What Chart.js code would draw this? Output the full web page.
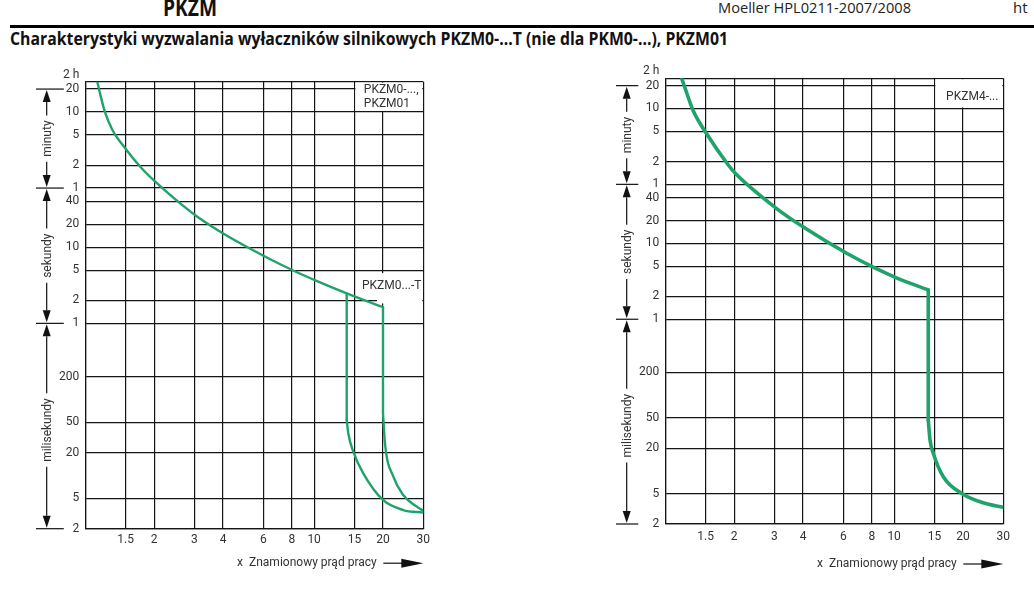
<!DOCTYPE html>
<html lang="pl">
<head>
  <meta charset="UTF-8">
  <title>PKZM - charakterystyki wyzwalania</title>
  <script src="https://cdn.jsdelivr.net/npm/chart.js@4.4.1/dist/chart.umd.min.js"></script>
  <style>
    body {
      margin: 0;
      width: 1034px;
      height: 591px;
      background: #fff;
      overflow: hidden;
      position: relative;
      font-family: 'Open Sans', sans-serif;
      color: #111;
    }
    .txt {
      position: absolute;
      white-space: nowrap;
      transform-origin: left center;
    }
    #rule {
      position: absolute;
      left: 10px;
      right: 0;
      top: 25px;
      height: 2.5px;
      background: #000;
    }
    .chart-box {
      position: absolute;
      top: 55px;
      height: 536px;
    }
  </style>
</head>
<body>
  <!-- page header -->
  <div class="txt" style="left:163px;top:-9px;font-size:23px;font-weight:700" data-w="54">PKZM</div>
  <div class="txt" style="left:718px;top:-3px;font-size:15px;color:#222" data-w="193">Moeller HPL0211-2007/2008</div>
  <div class="txt" style="left:1013px;top:-3px;font-size:15px;color:#222">ht</div>
  <div id="rule"></div>
  <div class="txt" style="left:10px;top:27px;font-size:17px;font-weight:700" data-w="718">Charakterystyki wyzwalania wyłaczników silnikowych PKZM0-...T (nie dla PKM0-...), PKZM01</div>

  <div class="chart-box" style="left:0;width:450px"><canvas id="leftChart"></canvas></div>
  <div class="chart-box" style="left:580px;width:454px"><canvas id="rightChart"></canvas></div>

  <script>
    // axes (x = multiple of rated current, y = trip time in seconds)
    const xTicks = [1, 1.5, 2, 3, 4, 6, 8, 10, 15, 20, 30];
    const xTickLabels = ['', '1.5', '2', '3', '4', '6', '8', '10', '15', '20', '30'];
    const yTicks = [1500, 1200, 600, 300, 120, 60, 40, 20, 10, 5, 2, 1, 0.2, 0.05, 0.02, 0.005, 0.002];
    const yTickLabels = [['2 h', ''], '20', '10', '5', '2', '1', '40', '20', '10', '5', '2', '1', '200', '50', '20', '5', '2'];

    // time ranges marked on the left side
    const rangeTop = [1200, 60, 1];
    const rangeBottom = [60, 1, 0.002];
    const rangeNames = ['minuty', 'sekundy', 'milisekundy'];

    // PKZM0-..., PKZM01 (left chart): overload curve, magnetic drop, tail
    const pkzm0MainX = [1.128, 1.147, 1.217, 1.312, 1.511, 1.739, 2.022, 2.638, 3.087, 4.091, 6.242, 8.19, 10.12, 13.88, 20];
    const pkzm0MainY = [1500, 1213, 605, 351, 191.6, 114.5, 72.7, 36.3, 25.2, 14.6, 7.29, 4.88, 3.68, 2.48, 1.63];
    const pkzm0DropX = [20, 20];
    const pkzm0DropY = [1.63, 0.0658];
    const pkzm0TailX = [20, 20.4, 22.2, 24.5, 28.1, 30];
    const pkzm0TailY = [0.0658, 0.0265, 0.00966, 0.00555, 0.0039, 0.00345];
    // PKZM0...-T branch
    const pkzm0tDropX = [13.88, 13.88];
    const pkzm0tDropY = [2.48, 0.0537];
    const pkzm0tTailX = [13.88, 14.1, 14.83, 16.4, 20, 24.5, 30];
    const pkzm0tTailY = [0.0537, 0.0359, 0.0206, 0.0107, 0.00477, 0.00352, 0.00325];

    // PKZM4-... (right chart)
    const pkzm4MainX = [1.179, 1.207, 1.326, 1.511, 1.885, 2.022, 3.056, 4.091, 6.204, 8.19, 10.12, 14.1];
    const pkzm4MainY = [1500, 1224, 556, 282.5, 107.9, 83.9, 29.0, 15.8, 7.4, 4.78, 3.57, 2.43];
    const pkzm4DropX = [14.1, 14.1];
    const pkzm4DropY = [2.43, 0.0469];
    const pkzm4TailX = [14.1, 14.35, 14.83, 16.4, 19.93, 24.5, 30];
    const pkzm4TailY = [0.0469, 0.0256, 0.0171, 0.0084, 0.00497, 0.00381, 0.00332];

    const GREEN = '#1fa36b';
    const GRID = '#151515';
    const TEXT = '#333';
    const FONT = 'Roboto, "Open Sans", sans-serif';

    function zip(xs, ys) {
      return xs.map((x, i) => ({ x: x, y: ys[i] }));
    }

    // squeeze header texts to the widths of the original
    document.querySelectorAll('[data-w]').forEach(el => {
      const w = el.getBoundingClientRect().width;
      el.style.transform = 'scaleX(' + (parseFloat(el.dataset.w) / w) + ')';
    });

    // label boxes, range brackets and x-axis caption
    const extras = {
      id: 'extras',
      beforeDatasetsDraw(chart, args, opts) {
        const ctx = chart.ctx, xs = chart.scales.x, ys = chart.scales.y;
        ctx.save();
        opts.boxes.forEach(b => {
          const x0 = xs.getPixelForValue(b.x0) + b.dx0;
          const x1 = xs.getPixelForValue(b.x1) - 1;
          const y0 = ys.getPixelForValue(b.y0) + b.dy0;
          const y1 = ys.getPixelForValue(b.y1) + b.dy1;
          ctx.fillStyle = '#fff';
          ctx.fillRect(x0, y0, x1 - x0, y1 - y0);
          ctx.fillStyle = TEXT;
          ctx.font = '12px ' + FONT;
          ctx.textAlign = 'left';
          ctx.textBaseline = 'middle';
          b.lines.forEach((t, i) => {
            ctx.fillText(t, xs.getPixelForValue(b.x0) + b.tx, ys.getPixelForValue(b.ty) + b.tdy + i * 14);
          });
        });
        ctx.restore();
      },
      afterDraw(chart, args, opts) {
        const ctx = chart.ctx, ys = chart.scales.y;
        const area = chart.chartArea;
        const L = area.left, R = area.right, B = area.bottom;
        const ax = L - 38.6;
        ctx.save();
        ctx.strokeStyle = '#111';
        ctx.fillStyle = '#111';
        ctx.lineWidth = 1.2;

        // extension lines at range borders
        const borders = [...new Set(rangeTop.concat(rangeBottom))];
        borders.forEach(v => {
          const y = ys.getPixelForValue(v);
          ctx.beginPath();
          ctx.moveTo(L - 49.3, y);
          ctx.lineTo(L - opts.extEnd, y);
          ctx.stroke();
        });

        ctx.font = '12px ' + FONT;
        rangeNames.forEach((name, i) => {
          const yt = ys.getPixelForValue(rangeTop[i]);
          const yb = ys.getPixelForValue(rangeBottom[i]);
          const mid = (yt + yb) / 2 + (i === 2 ? 4 : 0);
          const half = ctx.measureText(name).width / 2 + 5;
          const ah = 13, aw = 4;
          // arrow heads
          ctx.beginPath();
          ctx.moveTo(ax, yt + 1);
          ctx.lineTo(ax - aw, yt + ah);
          ctx.lineTo(ax + aw, yt + ah);
          ctx.closePath();
          ctx.fill();
          ctx.beginPath();
          ctx.moveTo(ax, yb - 1);
          ctx.lineTo(ax - aw, yb - ah);
          ctx.lineTo(ax + aw, yb - ah);
          ctx.closePath();
          ctx.fill();
          // shafts
          ctx.beginPath();
          ctx.moveTo(ax, yt + ah);
          ctx.lineTo(ax, mid - half);
          ctx.moveTo(ax, mid + half);
          ctx.lineTo(ax, yb - ah);
          ctx.stroke();
          // rotated name
          ctx.save();
          ctx.translate(ax + 1, mid);
          ctx.rotate(-Math.PI / 2);
          ctx.fillStyle = TEXT;
          ctx.textAlign = 'center';
          ctx.textBaseline = 'middle';
          ctx.fillText(name, 0, 0);
          ctx.restore();
        });

        // x caption with arrow
        const cy = B + opts.titleOffset;
        ctx.fillStyle = TEXT;
        ctx.textAlign = 'right';
        ctx.textBaseline = 'middle';
        ctx.fillText('x  Znamionowy prąd pracy', R - 46.6, cy);
        ctx.fillStyle = '#111';
        ctx.beginPath();
        ctx.moveTo(R - 40, cy);
        ctx.lineTo(R - 20, cy);
        ctx.stroke();
        ctx.beginPath();
        ctx.moveTo(R, cy);
        ctx.lineTo(R - 22, cy - 4.5);
        ctx.lineTo(R - 22, cy + 4.5);
        ctx.closePath();
        ctx.fill();
        ctx.restore();
      }
    };

    // series: [xs, ys, smooth]
    function makeChart(id, cfg) {
      const datasets = cfg.series.map(s => ({
        data: zip(s[0], s[1]),
        borderColor: GREEN,
        borderWidth: cfg.lineWidth,
        borderCapStyle: 'round',
        borderJoinStyle: 'round',
        pointRadius: 0,
        cubicInterpolationMode: s[2] ? 'monotone' : 'default',
        tension: 0,
        fill: false
      }));
      return new Chart(document.getElementById(id), {
        type: 'line',
        data: { datasets: datasets },
        plugins: [extras],
        options: {
          responsive: true,
          maintainAspectRatio: false,
          animation: false,
          layout: { padding: cfg.padding },
          plugins: {
            legend: { display: false },
            tooltip: { enabled: false },
            extras: cfg.extras
          },
          scales: {
            x: {
              type: 'logarithmic',
              min: 1,
              max: 30,
              afterBuildTicks: s => { s.ticks = xTicks.map(v => ({ value: v })); },
              afterFit: s => { s.height = 30; },
              ticks: {
                autoSkip: false,
                maxRotation: 0,
                padding: cfg.xPad,
                color: TEXT,
                font: { family: FONT, size: 12 },
                callback: (v, i) => xTickLabels[i]
              },
              grid: { color: GRID, lineWidth: 1.2, drawTicks: false },
              border: { color: GRID, width: 1.2 }
            },
            y: {
              type: 'logarithmic',
              min: 0.002,
              max: 1500,
              afterBuildTicks: s => { s.ticks = yTicks.map(v => ({ value: v })); },
              afterFit: s => { s.width = 85.3; },
              ticks: {
                autoSkip: false,
                padding: 6,
                color: TEXT,
                font: { family: FONT, size: 12 },
                callback: (v, i) => yTickLabels[i]
              },
              grid: { color: GRID, lineWidth: 1.2, drawTicks: false },
              border: { color: GRID, width: 1.2 }
            }
          }
        }
      });
    }

    makeChart('leftChart', {
      series: [
        [pkzm0MainX, pkzm0MainY, true],
        [pkzm0DropX, pkzm0DropY, false],
        [pkzm0TailX, pkzm0TailY, true],
        [pkzm0tDropX, pkzm0tDropY, false],
        [pkzm0tTailX, pkzm0tTailY, true]
      ],
      lineWidth: 2.4,
      padding: { top: 26.7, right: 26.7, bottom: 32.3, left: 0 },
      xPad: 4,
      extras: {
        extEnd: 21.5,
        titleOffset: 34.5,
        boxes: [
          { x0: 15, x1: 30, y0: 1500, dy0: 1, y1: 600, dy1: -1, dx0: 1,
            lines: ['PKZM0-...,', 'PKZM01'], tx: 9.4, ty: 1200, tdy: 1 },
          { x0: 20, x1: 30, y0: 5, dy0: 3, y1: 2, dy1: 3, dx0: -6,
            lines: ['PKZM0...-T'], tx: -21, ty: 2, tdy: -14 }
        ]
      }
    });

    makeChart('rightChart', {
      series: [
        [pkzm4MainX, pkzm4MainY, true],
        [pkzm4DropX, pkzm4DropY, false],
        [pkzm4TailX, pkzm4TailY, true]
      ],
      lineWidth: 3.6,
      padding: { top: 23.3, right: 30.7, bottom: 37, left: 0 },
      xPad: 6,
      extras: {
        extEnd: 27,
        titleOffset: 40,
        boxes: [
          { x0: 15, x1: 30, y0: 1500, dy0: 1, y1: 600, dy1: -1, dx0: 1,
            lines: ['PKZM4-...'], tx: 11.7, ty: 1200, tdy: 11 }
        ]
      }
    });
  </script>
</body>
</html>
